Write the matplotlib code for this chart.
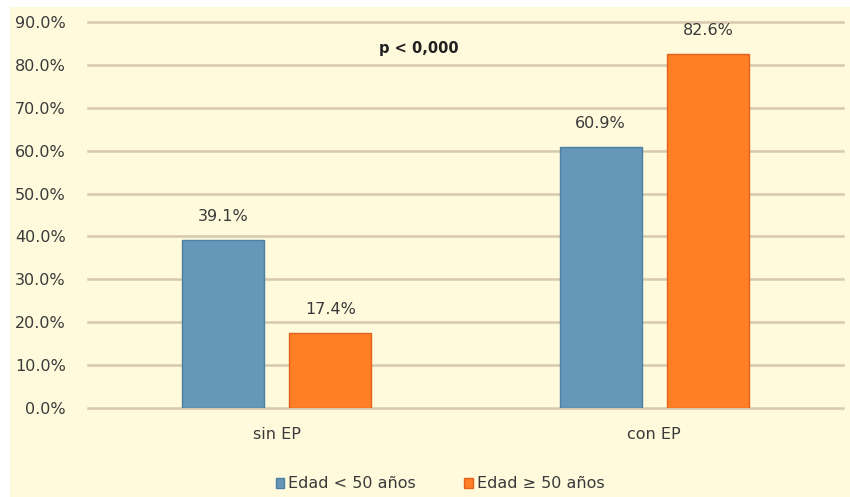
import numpy as np
import matplotlib.pyplot as plt
from matplotlib.patches import Rectangle

# Porcentaje de pacientes por grupo de edad, sin / con EP
categorias = ['sin EP', 'con EP']
menores_50 = [39.1, 60.9]
mayores_50 = [17.4, 82.6]
series = ['Edad < 50 años', 'Edad \u2265 50 años']
yticks = np.arange(0, 100, 10)

bg = '#FFFADC'
azul, azul_borde = '#6697B8', '#4C7FA3'
naranja, naranja_borde = '#FF7F27', '#E2621C'
texto = '#3A3A3A'

fig = plt.figure(figsize=(8.5, 4.97), dpi=100)
fig.patch.set_facecolor('white')
fig.patches.append(Rectangle((10 / 850, -0.05), 1.1, 1.05 - 7 / 497, transform=fig.transFigure,
                             facecolor=bg, edgecolor='none', zorder=-10))

ax = fig.add_axes([88 / 850, 1 - 408 / 497, (843 - 88) / 850, (408 - 22) / 497])
ax.patch.set_alpha(0)

x = np.arange(len(categorias))
w = 0.217
off = 0.142
b1 = ax.bar(x - off, menores_50, w, color=azul, edgecolor=azul_borde, lw=1, zorder=3,
            label=series[0])
b2 = ax.bar(x + off, mayores_50, w, color=naranja, edgecolor=naranja_borde, lw=1, zorder=3,
            label=series[1])

for bars, vals in [(b1, menores_50), (b2, mayores_50)]:
    for r, v in zip(bars, vals):
        ax.annotate(f'{v:.1f}%', (r.get_x() + r.get_width() / 2, v), xytext=(0, 17),
                    textcoords='offset points', ha='center', va='center',
                    fontsize=11.5, color=texto)

ax.text(0.377, 83.9, 'p < 0,000', ha='center', va='center', fontsize=10.5,
        fontweight='bold', color='#202020')

ax.set_xlim(-0.5, 1.5)
ax.set_ylim(0, 90)
ax.set_yticks(yticks)
ax.set_yticklabels([f'{t:.1f}%' for t in yticks])
ax.set_xticks(x)
ax.set_xticklabels(categorias)
ax.tick_params(length=0, labelsize=11.5, colors=texto)
ax.tick_params(axis='y', pad=16)
ax.tick_params(axis='x', pad=14)
ax.grid(axis='y', color='#D6C9AE', lw=1.8, zorder=0)
for s in ax.spines.values():
    s.set_visible(False)

# que las líneas de 0% y 90% no queden cortadas por el borde del eje
fig.canvas.draw()
for gl in ax.get_ygridlines():
    gl.set_clip_on(False)

fig.legend(handles=[b1, b2], loc='center', bbox_to_anchor=(440 / 850, 1 - 484 / 497),
           ncol=2, frameon=False, fontsize=11.5, handlelength=0.55, handleheight=0.55,
           handletextpad=0.25, columnspacing=3.0, labelcolor=texto)

fig.savefig('out.png', dpi=100, facecolor=fig.get_facecolor())
